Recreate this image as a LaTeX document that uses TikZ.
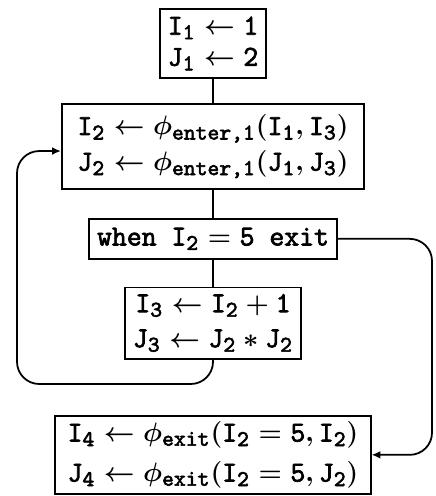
\documentclass[tikz,border=0pt]{standalone}
\usepackage{amsmath}
\usepackage{fontspec}
\setmonofont{Latin Modern Mono}[AutoFakeBold=2.5]
\usetikzlibrary{positioning,arrows.meta}
\renewcommand{\defaultscriptratio}{.78}
\newcommand{\tv}[2]{\texttt{#1}_{\texttt{#2}}}

\begin{document}
\begin{tikzpicture}[x=0.45pt,y=-0.45pt,
  blk/.style={draw,line width=0.8pt,align=center,inner xsep=3.5pt,
    font=\fontsize{13}{#1}\selectfont\ttfamily\bfseries\boldmath},
  blk/.default=15.75pt,
  ln/.style={line width=0.8pt},
  arr/.style={ln,-{Latex[length=4pt,width=3.5pt]},rounded corners=10pt}]
  \useasboundingbox (0,0) rectangle (435,496);
  \node[blk=14pt,inner ysep=3.5pt] (init) at (213,43.5) {$\tv{I}{1} \leftarrow \texttt{1}$\\$\tv{J}{1} \leftarrow \texttt{2}$};
  \node[blk=16pt,inner ysep=5pt,inner xsep=7pt,below=10.8pt of init] (enter) {$\tv{I}{2} \leftarrow \phi_{\texttt{enter,1}}(\tv{I}{1}, \tv{I}{3})$\\$\tv{J}{2} \leftarrow \phi_{\texttt{enter,1}}(\tv{J}{1}, \tv{J}{3})$};
  \node[blk,inner ysep=3.9pt,below=12.6pt of enter] (test) {when $\tv{I}{2} = \texttt{5}$ exit};
  \node[blk,inner ysep=3pt,below=12.2pt of test] (body) {$\tv{I}{3} \leftarrow \tv{I}{2} + \texttt{1}$\\$\tv{J}{3} \leftarrow \tv{J}{2} * \tv{J}{2}$};
  \node[blk=18pt,inner ysep=2.5pt,inner xsep=5.5pt,below=25pt of body] (exit) {$\tv{I}{4} \leftarrow \phi_{\texttt{exit}}(\tv{I}{2} = \texttt{5}, \tv{I}{2})$\\$\tv{J}{4} \leftarrow \phi_{\texttt{exit}}(\tv{I}{2} = \texttt{5}, \tv{J}{2})$};
  \coordinate (lb) at (17,384);
  \coordinate (rt) at (432,300);
  \draw[ln] (init) -- (enter);
  \draw[ln] (enter) -- (test);
  \draw[ln] (test) -- (body);
  \draw[arr] (body.south) |- (lb) |- ([yshift=-2pt]enter.west);
  \draw[arr] (test.east) -| (rt) |- (exit.east);
\end{tikzpicture}
\end{document}
